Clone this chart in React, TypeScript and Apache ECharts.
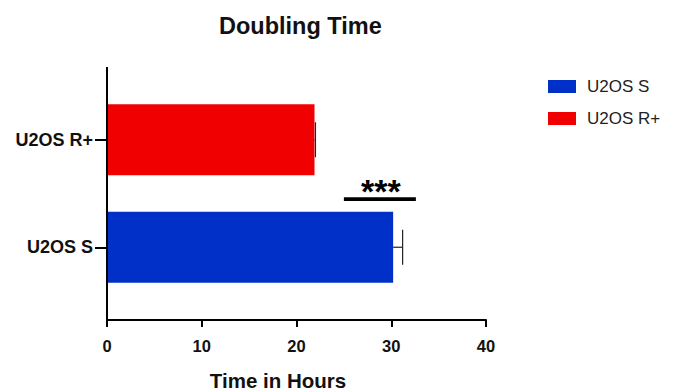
import React, { useEffect, useRef } from "react";
import * as echarts from "echarts";

const categories = ["U2OS S", "U2OS R+"];
const seriesNames = ["U2OS S", "U2OS R+"];
const meanValues = [30.2, 21.9];
const errorValues = [1.0, 0.1];
const colors = ["#0030C8", "#F00000"];
const xTicks = [0, 10, 20, 30, 40];
const sigRange = [25.0, 32.6];
const sigLabel = "***";

const FONT = "Liberation Sans, Arial, sans-serif";

export default function App() {
  const ref = useRef<HTMLDivElement>(null);
  useEffect(() => {
    document.body.style.margin = "0";
    const chart = echarts.init(ref.current!, null, { renderer: "svg" });
    const barSeries = seriesNames.map((name, i) => ({
      name,
      type: "bar",
      data: categories.map((_, j) => (j === i ? meanValues[i] : null)),
      barWidth: 71,
      barGap: "-100%",
      itemStyle: { color: colors[i] },
      z: 2,
    }));
    const errorData = categories.map((_, j) => [j, meanValues[j], errorValues[j]]);
    chart.setOption({
      animation: false,
      textStyle: { fontFamily: FONT },
      title: {
        text: "Doubling Time",
        left: 214,
        top: 9,
        textStyle: { fontFamily: FONT, fontSize: 23.5, fontWeight: "bold", color: "#111" },
      },
      legend: {
        orient: "vertical",
        left: 543,
        top: 73,
        itemWidth: 28,
        itemHeight: 13,
        itemGap: 15,
        icon: "rect",
        data: seriesNames,
        textStyle: { fontFamily: FONT, fontSize: 17, color: "#222", padding: [0, 0, 0, 6] },
      },
      grid: { left: 107, right: 673 - 486, top: 86, bottom: 392 - 301, containLabel: false, outerBoundsMode: "none" },
      xAxis: {
        type: "value",
        min: xTicks[0],
        max: xTicks[xTicks.length - 1],
        interval: 10,
        offset: 19,
        splitLine: { show: false },
        axisLine: { show: true, lineStyle: { color: "#000", width: 2 } },
        axisTick: { show: true, length: 7, lineStyle: { color: "#000", width: 2 } },
        axisLabel: { fontFamily: FONT, fontSize: 16.5, fontWeight: "bold", color: "#111", margin: 17 },
        name: "Time in Hours",
        nameLocation: "middle",
        nameGap: 50,
        nameTextStyle: { fontFamily: FONT, fontSize: 20.5, fontWeight: "bold", color: "#111", padding: [0, 37, 0, 0] },
      },
      yAxis: {
        type: "category",
        data: categories,
        axisLine: { show: false },
        axisTick: { show: true, alignWithLabel: true, length: 12, lineStyle: { color: "#000", width: 2 } },
        axisLabel: { fontFamily: FONT, fontSize: 18, fontWeight: "bold", color: "#111", margin: 14 },
      },
      graphic: [
        {
          type: "line",
          shape: { x1: 107, y1: 67, x2: 107, y2: 321 },
          style: { stroke: "#000", lineWidth: 2 },
          z: 10,
        },
      ],
      series: [
        ...barSeries,
        {
          type: "custom",
          name: "error",
          data: errorData,
          z: 5,
          renderItem: (params: any, api: any) => {
            const cat = api.value(0);
            const mean = api.value(1);
            const err = api.value(2);
            const p0 = api.coord([mean, cat]);
            const p1 = api.coord([mean + err, cat]);
            const half = 17.5;
            return {
              type: "group",
              children: [
                { type: "line", shape: { x1: p0[0], y1: p0[1], x2: p1[0], y2: p1[1] }, style: { stroke: "#222", lineWidth: 1.2 } },
                { type: "line", shape: { x1: p1[0], y1: p1[1] - half, x2: p1[0], y2: p1[1] + half }, style: { stroke: "#222", lineWidth: 1.2 } },
              ],
            };
          },
        },
        {
          type: "custom",
          name: "sig",
          data: [[sigRange[0], sigRange[1]]],
          z: 5,
          renderItem: (params: any, api: any) => {
            const a = api.coord([api.value(0), 0]);
            const b = api.coord([api.value(1), 0]);
            const top = api.coord([api.value(0), 1]);
            const y = a[1] - (a[1] - top[1]) * 0.448;
            return {
              type: "group",
              children: [
                { type: "line", shape: { x1: a[0], y1: y, x2: b[0], y2: y }, style: { stroke: "#000", lineWidth: 3.7 } },
                {
                  type: "text",
                  x: (a[0] + b[0]) / 2 + 1,
                  y: y - 8,
                  style: {
                    text: sigLabel,
                    font: `bold 34px ${FONT}`,
                    fill: "#000",
                    align: "center",
                    verticalAlign: "middle",
                  },
                },
              ],
            };
          },
        },
      ],
    });
    return () => chart.dispose();
  }, []);
  return <div ref={ref} style={{ width: 673, height: 392 }} />;
}
